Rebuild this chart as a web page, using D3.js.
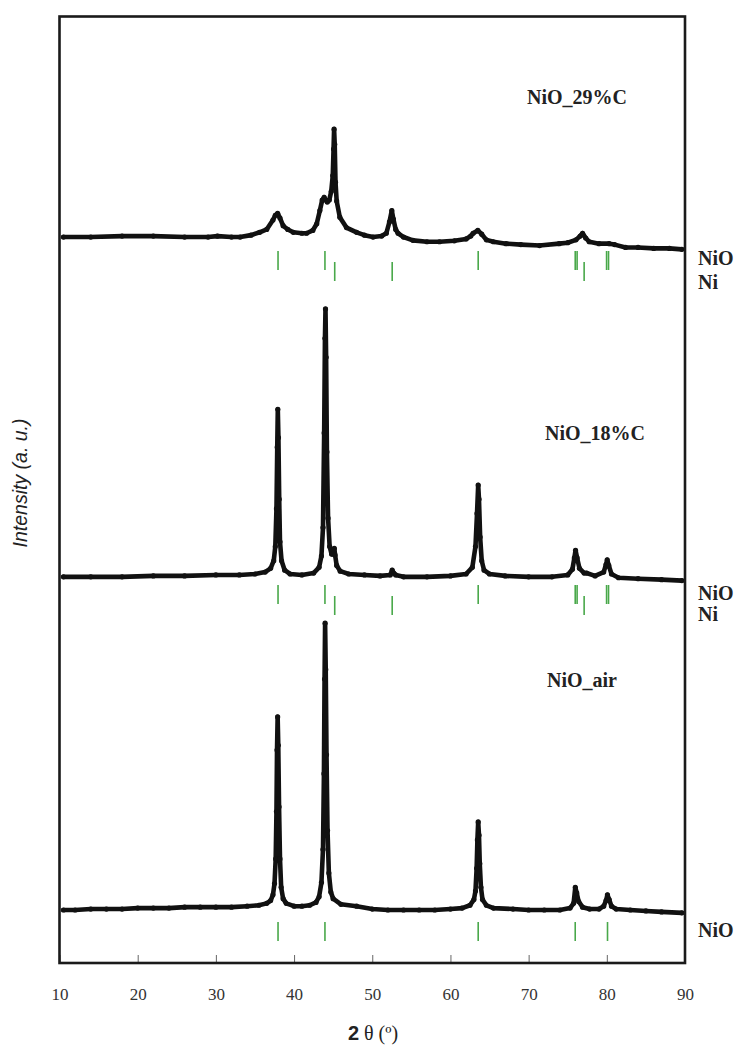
<!DOCTYPE html>
<html><head><meta charset="utf-8">
<script src="https://cdn.jsdelivr.net/npm/d3@7"></script>
<style>body{margin:0;background:#fff}</style>
</head><body>
<svg id="chart" width="744" height="1053"></svg>
<script>
// ---------- data ----------
const xTickValues = [10,20,30,40,50,60,70,80,90];
const seriesNames = ["NiO_29%C","NiO_18%C","NiO_air"];
const seriesOffsets = [700, 350, 0];

const tt_29 = [10.5,14,18,22,26,29,30.2,32,33.1,34.5,35.6,36.5,37.3,37.6,37.9,38.2,38.6,39.2,39.9,41.0,41.6,42.4,42.9,43.3,43.6,43.85,44.05,44.25,44.5,44.75,44.95,45.05,45.12,45.2,45.3,45.45,45.85,46.7,48.0,49,50.1,51.2,51.8,52.2,52.5,52.7,53.0,53.3,54,55.2,57,58.6,60.5,62.0,62.6,62.9,63.5,64.0,64.6,65.5,67.1,69,71.4,73.9,75,76.05,76.6,76.9,77.3,77.75,79,80.3,81,82.4,84,86,88,89.6];
const int_29 = [67,67,68,68,67,67,68,67,67,69,72,75,85,90,92,87,79,75,72,71,71,74,81,95,106,109,106,104,106,115,132,160,181,165,125,105,88,77,72,69,67,68,71,83,95,86,75,71,67,63.5,62,62,63,65,68,71,74,70,64,62,60,59,58,60,61,64,68,71,66,62,60,60,59,56,56,55,55,54];

const tt_18 = [10.5,14,18,22,26,30,33,35,36.3,37.0,37.4,37.6,37.75,37.85,37.92,38.0,38.1,38.2,38.4,38.8,39.5,41,42.5,43.2,43.5,43.7,43.85,43.95,44.02,44.1,44.2,44.35,44.55,44.8,45.0,45.15,45.25,45.45,45.9,47,49,51,52.3,52.55,52.75,53.0,54,57,60,62,62.8,63.2,63.4,63.55,63.65,63.8,64.0,64.3,65,67,70,73,75,75.6,75.85,76.0,76.2,76.5,77.1,77.4,78.5,79.6,79.9,80.05,80.25,80.6,81.5,84,87,89.6];
const int_18 = [58,58,58,59,59,60,60,61,63,67,75,90,130,195,235,205,140,95,75,65,61,60,62,68,80,110,210,310,341,290,190,120,90,82,82,88,81,70,64,61,60,59,60,65,62,60,58,58,59,61,68,90,125,155,140,100,75,65,61,59,58,58,60,66,78,86,78,67,62,62,59,63,71,76,70,61,57,56,55,54];

const tt_air = [10.5,12,14,16,18,20,22,24,26,28,30,32,34,35.5,36.5,37.0,37.3,37.5,37.65,37.75,37.82,37.9,37.98,38.08,38.2,38.35,38.6,39,40,41,42,42.8,43.2,43.5,43.7,43.82,43.9,43.97,44.05,44.15,44.28,44.45,44.7,45,46,48,50,52,54,56,58,60,61.5,62.5,63.0,63.2,63.35,63.45,63.55,63.65,63.75,63.9,64.1,64.6,65.5,68,70,72,74,75.3,75.75,75.97,76.15,76.4,76.9,77.8,79,79.6,79.9,80.08,80.3,80.6,81.2,83,85,87,89.6];
const int_air = [56,56,57,57,57,58,58,58,59,59,59,59,60,61,63,66,72,84,110,160,225,260,230,165,110,80,68,63,60,60,61,64,70,85,120,200,300,359,310,220,140,95,75,68,62,60,57,56,56,56,56,57,58,61,67,76,100,130,149,135,105,80,67,61,58,57,56,56,56,58,63,80,74,65,59,57,57,60,66,72,67,60,57,56,55,54,53];

const seriesX = [tt_29, tt_18, tt_air];
const seriesY = [int_29, int_18, int_air];

// reference reflections (green ticks)
const niOLines = [37.95, 43.95, 63.55, 75.96, 76.2, 79.97, 80.22];
const niLines = [45.2, 52.55, 77.1];
const niOLinesAir = [37.95, 43.95, 63.55, 75.96, 80.09];
const phaseLabels = [["NiO","Ni"],["NiO","Ni"],["NiO"]];

// ---------- layout ----------
const svg = d3.select("#chart");
const L = 59.5, R = 685, T = 16.5, B = 963;
const x = d3.scaleLinear().domain([10,90]).range([L,R]);
const y = d3.scaleLinear().domain([0,1000]).range([B,T]);

// series
const line = d3.line().x(d=>x(d[0])).y(d=>y(d[1]));
seriesX.forEach((xs,i)=>{
  const pts = xs.map((v,j)=>[v, seriesY[i][j] + seriesOffsets[i]]);
  svg.append("path").attr("d", line(pts)).attr("fill","none")
     .attr("stroke","#111").attr("stroke-width",4.6)
     .attr("stroke-linejoin","round").attr("stroke-linecap","round");
  svg.append("g").selectAll("circle").data(pts).join("circle")
     .attr("cx",d=>x(d[0])).attr("cy",d=>y(d[1])).attr("r",2.6).attr("fill","#111");
});

// green reflection ticks
const tickGroups = [
  {nio: niOLines, ni: niLines, top: 251},
  {nio: niOLines, ni: niLines, top: 585},
  {nio: niOLinesAir, ni: [], top: 922}
];
const green = "#49a84a";
tickGroups.forEach(g=>{
  svg.append("g").selectAll("line").data(g.nio).join("line")
    .attr("x1",d=>x(d)).attr("x2",d=>x(d)).attr("y1",g.top).attr("y2",g.top+19)
    .attr("stroke",green).attr("stroke-width",1.6);
  svg.append("g").selectAll("line").data(g.ni).join("line")
    .attr("x1",d=>x(d)).attr("x2",d=>x(d)).attr("y1",g.top+11).attr("y2",g.top+30)
    .attr("stroke",green).attr("stroke-width",1.6);
});

// phase labels on right
const phaseY = [[265,289],[600,621],[937]];
phaseLabels.forEach((labs,i)=>{
  labs.forEach((t,k)=>{
    svg.append("text").attr("x",698).attr("y",phaseY[i][k]).text(t)
      .attr("font-family","'Liberation Serif','Times New Roman',serif")
      .attr("font-weight","bold").attr("font-size",20).attr("fill","#222");
  });
});

// series labels
const nameX = [527, 545, 547];
const nameY = [104, 440, 687];
seriesNames.forEach((n,i)=>{
  svg.append("text").attr("x",nameX[i]).attr("y",nameY[i]).text(n)
    .attr("font-family","'Liberation Serif','Times New Roman',serif")
    .attr("font-weight","bold").attr("font-size",20).attr("fill","#222");
});

// x axis (bottom, inner ticks)
const ax = svg.append("g").attr("transform",`translate(0,${B})`)
  .call(d3.axisBottom(x).tickValues(xTickValues).tickSizeInner(-8).tickSizeOuter(0).tickPadding(25).tickFormat(d3.format("d")));
ax.select(".domain").remove();
ax.selectAll(".tick line").attr("stroke","#666").attr("stroke-width",1);
ax.selectAll(".tick text").attr("font-family","'Liberation Serif','Times New Roman',serif")
  .attr("font-size",17).attr("fill","#333");

// frame
svg.append("rect").attr("x",L).attr("y",T).attr("width",R-L).attr("height",B-T)
  .attr("fill","none").attr("stroke","#1a1a1a").attr("stroke-width",2.6);

// axis titles
const xt = svg.append("text").attr("x",373).attr("y",1040).attr("text-anchor","middle")
  .attr("font-size",20).attr("fill","#222");
xt.append("tspan").attr("font-family","'Liberation Sans',Arial,sans-serif").attr("font-weight","bold").text("2");
xt.append("tspan").attr("font-family","'Liberation Serif','Times New Roman',serif").text(" θ  (º)");

svg.append("text").attr("transform","translate(27,483) rotate(-90)").attr("text-anchor","middle")
  .attr("font-family","'Liberation Sans',Arial,sans-serif").attr("font-style","italic")
  .attr("font-size",19.5).attr("fill","#222").text("Intensity (a. u.)");
</script>
</body></html>
